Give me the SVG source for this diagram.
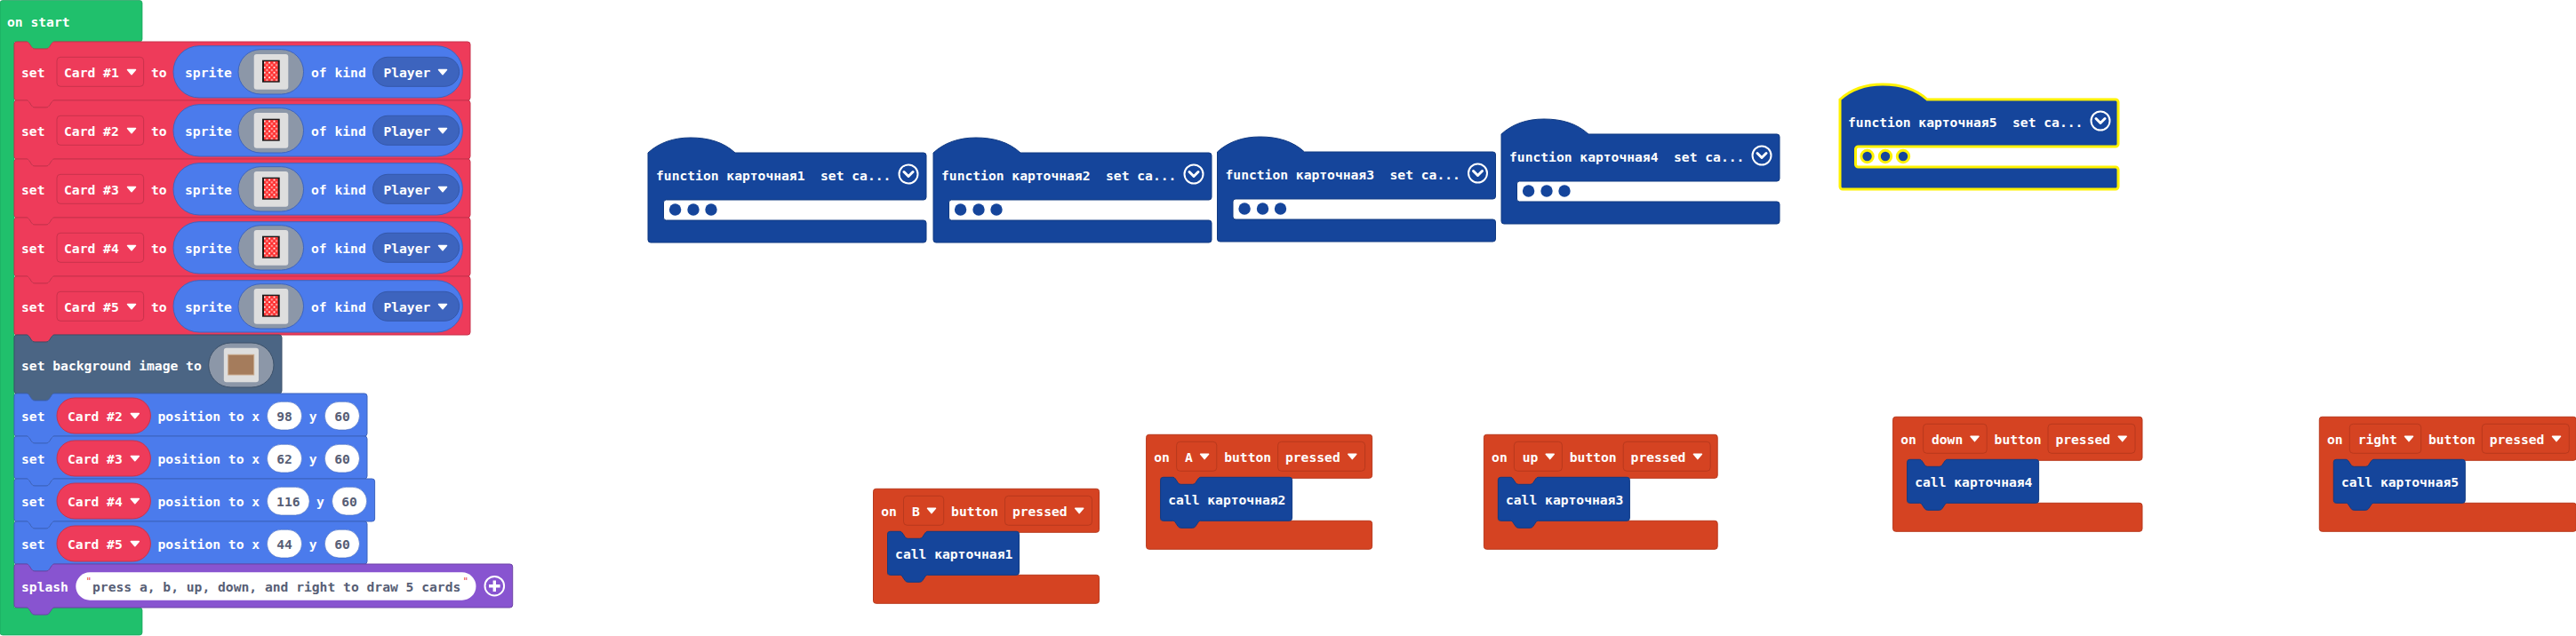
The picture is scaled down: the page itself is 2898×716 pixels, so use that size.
<svg xmlns="http://www.w3.org/2000/svg" width="2898" height="716" viewBox="0 0 2898 716">
<style>
text{font-family:"DejaVu Sans Mono","Liberation Mono",monospace;font-weight:700;font-size:14.65px;fill:#fff;white-space:pre}
.g{fill:#575E75}
.red{fill:#EE3B5A;stroke:#C8324C}
.blue{fill:#4B7BEC;stroke:#3D64BE}
.slate{fill:#4B6584;stroke:#3C516A}
.purple{fill:#8854D0;stroke:#6D43A6}
.fn{fill:#15459B;stroke:#113A82}
.ev{fill:#D54322;stroke:#B8391D}
.evf{fill:#D54322;stroke:#B8391D}
.gp{fill:#8C97A8}
.box{fill:#DEDEDE}
.num{fill:#fff;stroke:#3D64BE;stroke-width:.6}
.arrow{fill:#fff;stroke:#fff;stroke-width:1.5;stroke-linejoin:round}
.ring{fill:none;stroke:#fff;stroke-width:2}
.chev{fill:none;stroke:#fff;stroke-width:3;stroke-linecap:round;stroke-linejoin:round}
.q{font-size:11px;fill:#E63946;font-weight:400}
</style>
<defs>
<pattern id="dither" width="5.4" height="5.6" patternUnits="userSpaceOnUse">
<rect width="5.4" height="5.6" fill="#FF2B2B"/>
<rect x="1.700" y="1.800" width="2" height="2" fill="#FFE4E4"/>
<rect x="0" y="0" width="1.200" height="1.200" fill="#FF9A9A"/>
<rect x="4.200" y="4.400" width="1.200" height="1.200" fill="#FF9A9A"/>
<rect x="4.200" y="0" width="1.200" height="1.200" fill="#FF9A9A"/>
<rect x="0" y="4.400" width="1.200" height="1.200" fill="#FF9A9A"/>
</pattern>
<path id="arr" class="arrow" d="M-4.500-2.500H4.500L0 2.800Z"/>
<g id="card">
<rect width="19.700" height="25" fill="#1A1A1A"/>
<rect x="2" y="1.400" width="15.700" height="22.200" fill="url(#dither)"/>
</g>
<path id="fnshape" d="M0 0C12-11 28-17 48-17C68-17 85-12 98 0H310a3 3 0 0 1 3 3V50a3 3 0 0 1-3 3H20.500a3 3 0 0 0-3 3V73a3 3 0 0 0 3 3H310a3 3 0 0 1 3 3V98a3 3 0 0 1-3 3H3a3 3 0 0 1-3-3Z"/>
<g id="fndots"><circle cx="30.600" cy="64" r="6.700"/><circle cx="51" cy="64" r="6.700"/><circle cx="71" cy="64" r="6.700"/></g>
<g id="fnicon"><circle class="ring" cx="293" cy="24" r="10.500"/><path class="chev" d="M288 21.500L293 26.500L298 21.500"/></g>
<path id="redrow" class="red" d="M3 0H14q1.500 0 2.500 1.500l3 4.500q1 2 3.500 2h13q2.500 0 3.500-2l3-4.500q1-1.500 2.500-1.500H510a3 3 0 0 1 3 3V63a3 3 0 0 1-3 3H45q-1.500 0-2.500 1.500l-3 4.500q-1 2-3.500 2H23q-2.500 0-3.500-2l-3-4.500q-1-1.500-2.500-1.500H3a3 3 0 0 1-3-3V3a3 3 0 0 1 3-3Z"/>
<path id="callshape" class="fn" d="M3 0H14q1.500 0 2.500 1.500l3 4.500q1 2 3.500 2h13q2.500 0 3.500-2l3-4.500q1-1.500 2.500-1.500H145a3 3 0 0 1 3 3V46a3 3 0 0 1-3 3H45q-1.500 0-2.500 1.500l-3 4.500q-1 2-3.500 2H23q-2.500 0-3.500-2l-3-4.500q-1-1.500-2.500-1.500H3a3 3 0 0 1-3-3V3a3 3 0 0 1 3-3Z"/>
<g id="spritepill">
<rect class="blue" x="179" y="4.700" width="325.400" height="58.300" rx="29"/>
<rect class="gp" x="252" y="8.700" width="73.500" height="50.300" rx="25" stroke="#3D64BE"/>
<rect class="box" x="269.700" y="14" width="38.600" height="39.700" rx="3"/>
<use href="#card" x="279" y="20.700"/>
<text x="192" y="40">sprite</text>
<text x="334" y="40">of kind</text>
<rect x="403.600" y="17.300" width="97" height="33" rx="16.500" fill="#3D64BE" stroke="#3558AA"/>
<text x="415.400" y="40">Player</text>
<use href="#arr" x="482" y="34"/>
</g>
</defs>
<rect width="2898" height="716" fill="#fff"/>

<g id="on-start">
<path d="M3 .5H157a3 3 0 0 1 3 3V44a3 3 0 0 1-3 3H61q-1.500 0-2.500 1.500l-3 4.500q-1 2-3.500 2H39q-2.500 0-3.500-2l-3-4.500q-1-1.500-2.500-1.500H16V684H157a3 3 0 0 1 3 3V712a3 3 0 0 1-3 3H3a3 3 0 0 1-3-3V3.500a3 3 0 0 1 3-3Z" fill="#20C06C" stroke="#1B9E5A" stroke-width=".7"/>
<text x="8" y="30">on start</text>
</g>

<g id="set-card1" transform="translate(16,47)"><use href="#redrow"/><text x="8" y="40">set</text><rect class="red" x="48" y="17.300" width="97.600" height="33" rx="4"/><text x="56" y="40">Card #1</text><use href="#arr" x="132" y="34"/><text x="154" y="40">to</text><use href="#spritepill"/></g>
<g id="set-card2" transform="translate(16,113)"><use href="#redrow"/><text x="8" y="40">set</text><rect class="red" x="48" y="17.300" width="97.600" height="33" rx="4"/><text x="56" y="40">Card #2</text><use href="#arr" x="132" y="34"/><text x="154" y="40">to</text><use href="#spritepill"/></g>
<g id="set-card3" transform="translate(16,179)"><use href="#redrow"/><text x="8" y="40">set</text><rect class="red" x="48" y="17.300" width="97.600" height="33" rx="4"/><text x="56" y="40">Card #3</text><use href="#arr" x="132" y="34"/><text x="154" y="40">to</text><use href="#spritepill"/></g>
<g id="set-card4" transform="translate(16,245)"><use href="#redrow"/><text x="8" y="40">set</text><rect class="red" x="48" y="17.300" width="97.600" height="33" rx="4"/><text x="56" y="40">Card #4</text><use href="#arr" x="132" y="34"/><text x="154" y="40">to</text><use href="#spritepill"/></g>
<g id="set-card5" transform="translate(16,311)"><use href="#redrow"/><text x="8" y="40">set</text><rect class="red" x="48" y="17.300" width="97.600" height="33" rx="4"/><text x="56" y="40">Card #5</text><use href="#arr" x="132" y="34"/><text x="154" y="40">to</text><use href="#spritepill"/></g>

<g id="set-background" transform="translate(16,377)">
<path class="slate" d="M3 0H14q1.500 0 2.500 1.500l3 4.500q1 2 3.500 2h13q2.500 0 3.500-2l3-4.500q1-1.500 2.500-1.500H298a3 3 0 0 1 3 3V63a3 3 0 0 1-3 3H45q-1.500 0-2.500 1.500l-3 4.500q-1 2-3.500 2H23q-2.500 0-3.500-2l-3-4.500q-1-1.500-2.500-1.500H3a3 3 0 0 1-3-3V3a3 3 0 0 1 3-3Z"/>
<text x="8" y="40">set background image to</text>
<rect class="gp" x="218.700" y="9" width="73.300" height="50" rx="25" stroke="#3C516A"/>
<rect class="box" x="235.800" y="14.700" width="39.200" height="38.600" rx="3"/>
<rect x="240.700" y="22.300" width="29" height="22.700" fill="#A57C5C" stroke="#C9A98C"/>
</g>

<g id="pos-card2" transform="translate(16,443)">
<path class="blue" d="M3 0H14q1.500 0 2.500 1.500l3 4.500q1 2 3.500 2h13q2.500 0 3.500-2l3-4.500q1-1.500 2.500-1.500H394a3 3 0 0 1 3 3V45a3 3 0 0 1-3 3H45q-1.500 0-2.500 1.500l-3 4.500q-1 2-3.500 2H23q-2.500 0-3.500-2l-3-4.500q-1-1.500-2.500-1.500H3a3 3 0 0 1-3-3V3a3 3 0 0 1 3-3Z"/>
<text x="8" y="31">set</text><rect class="red" x="48" y="5" width="105.400" height="40" rx="20"/><text x="60" y="31">Card #2</text><use href="#arr" x="135.800" y="25"/>
<text x="161.500" y="31">position to x</text><rect class="num" x="284.400" y="9.300" width="39.200" height="31.700" rx="15.800"/><text class="g" x="304" y="31" text-anchor="middle">98</text>
<text x="331.800" y="31">y</text><rect class="num" x="349.300" y="9.300" width="39.200" height="31.700" rx="15.800"/><text class="g" x="369" y="31" text-anchor="middle">60</text>
</g>
<g id="pos-card3" transform="translate(16,491)">
<path class="blue" d="M3 0H14q1.500 0 2.500 1.500l3 4.500q1 2 3.500 2h13q2.500 0 3.500-2l3-4.500q1-1.500 2.500-1.500H394a3 3 0 0 1 3 3V45a3 3 0 0 1-3 3H45q-1.500 0-2.500 1.500l-3 4.500q-1 2-3.500 2H23q-2.500 0-3.500-2l-3-4.500q-1-1.500-2.500-1.500H3a3 3 0 0 1-3-3V3a3 3 0 0 1 3-3Z"/>
<text x="8" y="31">set</text><rect class="red" x="48" y="5" width="105.400" height="40" rx="20"/><text x="60" y="31">Card #3</text><use href="#arr" x="135.800" y="25"/>
<text x="161.500" y="31">position to x</text><rect class="num" x="284.400" y="9.300" width="39.200" height="31.700" rx="15.800"/><text class="g" x="304" y="31" text-anchor="middle">62</text>
<text x="331.800" y="31">y</text><rect class="num" x="349.300" y="9.300" width="39.200" height="31.700" rx="15.800"/><text class="g" x="369" y="31" text-anchor="middle">60</text>
</g>
<g id="pos-card4" transform="translate(16,539)">
<path class="blue" d="M3 0H14q1.500 0 2.500 1.500l3 4.500q1 2 3.500 2h13q2.500 0 3.500-2l3-4.500q1-1.500 2.500-1.500H402.600a3 3 0 0 1 3 3V45a3 3 0 0 1-3 3H45q-1.500 0-2.500 1.500l-3 4.500q-1 2-3.500 2H23q-2.500 0-3.500-2l-3-4.500q-1-1.500-2.500-1.500H3a3 3 0 0 1-3-3V3a3 3 0 0 1 3-3Z"/>
<text x="8" y="31">set</text><rect class="red" x="48" y="5" width="105.400" height="40" rx="20"/><text x="60" y="31">Card #4</text><use href="#arr" x="135.800" y="25"/>
<text x="161.500" y="31">position to x</text><rect class="num" x="284.400" y="9.300" width="47.800" height="31.700" rx="15.800"/><text class="g" x="308.300" y="31" text-anchor="middle">116</text>
<text x="340" y="31">y</text><rect class="num" x="357.500" y="9.300" width="39.200" height="31.700" rx="15.800"/><text class="g" x="377" y="31" text-anchor="middle">60</text>
</g>
<g id="pos-card5" transform="translate(16,587)">
<path class="blue" d="M3 0H14q1.500 0 2.500 1.500l3 4.500q1 2 3.500 2h13q2.500 0 3.500-2l3-4.500q1-1.500 2.500-1.500H394a3 3 0 0 1 3 3V45a3 3 0 0 1-3 3H45q-1.500 0-2.500 1.500l-3 4.500q-1 2-3.500 2H23q-2.500 0-3.500-2l-3-4.500q-1-1.500-2.500-1.500H3a3 3 0 0 1-3-3V3a3 3 0 0 1 3-3Z"/>
<text x="8" y="31">set</text><rect class="red" x="48" y="5" width="105.400" height="40" rx="20"/><text x="60" y="31">Card #5</text><use href="#arr" x="135.800" y="25"/>
<text x="161.500" y="31">position to x</text><rect class="num" x="284.400" y="9.300" width="39.200" height="31.700" rx="15.800"/><text class="g" x="304" y="31" text-anchor="middle">44</text>
<text x="331.800" y="31">y</text><rect class="num" x="349.300" y="9.300" width="39.200" height="31.700" rx="15.800"/><text class="g" x="369" y="31" text-anchor="middle">60</text>
</g>

<g id="splash" transform="translate(16,635)">
<path class="purple" d="M3 0H14q1.500 0 2.500 1.500l3 4.500q1 2 3.500 2h13q2.500 0 3.500-2l3-4.500q1-1.500 2.500-1.500H557.700a3 3 0 0 1 3 3V46a3 3 0 0 1-3 3H45q-1.500 0-2.500 1.500l-3 4.500q-1 2-3.500 2H23q-2.500 0-3.500-2l-3-4.500q-1-1.500-2.500-1.500H3a3 3 0 0 1-3-3V3a3 3 0 0 1 3-3Z"/>
<text x="8" y="31">splash</text>
<rect x="69.300" y="9.300" width="450.200" height="31.400" rx="15.700" fill="#fff"/>
<text class="q" x="80.500" y="23">"</text>
<text class="q" x="504.500" y="23">"</text>
<text class="g" x="88" y="31">press a, b, up, down, and right to draw 5 cards</text>
<circle class="ring" cx="540.300" cy="24.700" r="10.800"/>
<path d="M540.300 18.500V31M534 24.700H546.600" stroke="#fff" stroke-width="3.400" fill="none"/>
</g>

<g id="function1" transform="translate(729,172)"><use href="#fnshape" class="fn"/><text x="9" y="31">function карточная1</text><text x="194" y="31">set ca...</text><use href="#fnicon"/><use href="#fndots" fill="#15459B"/></g>
<g id="function2" transform="translate(1050,172)"><use href="#fnshape" class="fn"/><text x="9" y="31">function карточная2</text><text x="194" y="31">set ca...</text><use href="#fnicon"/><use href="#fndots" fill="#15459B"/></g>
<g id="function3" transform="translate(1369.500,171)"><use href="#fnshape" class="fn"/><text x="9" y="31">function карточная3</text><text x="194" y="31">set ca...</text><use href="#fnicon"/><use href="#fndots" fill="#15459B"/></g>
<g id="function4" transform="translate(1689,151)"><use href="#fnshape" class="fn"/><text x="9" y="31">function карточная4</text><text x="194" y="31">set ca...</text><use href="#fnicon"/><use href="#fndots" fill="#15459B"/></g>
<g id="function5" transform="translate(2070,112)"><use href="#fnshape" fill="#15459B" stroke="#FFF200" stroke-width="3"/><text x="9" y="31">function карточная5</text><text x="194" y="31">set ca...</text><use href="#fnicon"/><use href="#fndots" fill="#15459B" stroke="#FFF200" stroke-width="3"/></g>

<g id="on-b" transform="translate(982.500,550.300)">
<path class="ev" d="M3 0H251a3 3 0 0 1 3 3V46a3 3 0 0 1-3 3H61q-1.500 0-2.500 1.500l-3 4.500q-1 2-3.500 2H39q-2.500 0-3.500-2l-3-4.500q-1-1.500-2.500-1.500H16V97H251a3 3 0 0 1 3 3V126a3 3 0 0 1-3 3H3a3 3 0 0 1-3-3V3a3 3 0 0 1 3-3Z"/>
<text x="8.700" y="31">on</text><rect class="evf" x="34" y="8" width="45.200" height="33" rx="4"/><text x="43.400" y="31">B</text><use href="#arr" x="65.500" y="24.500"/>
<text x="87.600" y="31">button</text><rect class="evf" x="148" y="8" width="98" height="33" rx="4"/><text x="156.400" y="31">pressed</text><use href="#arr" x="231.700" y="24.500"/>
<g id="call1" transform="translate(16,48)"><use href="#callshape"/><text x="8.600" y="31">call карточная1</text></g>
</g>
<g id="on-a" transform="translate(1289.600,489.300)">
<path class="ev" d="M3 0H251a3 3 0 0 1 3 3V46a3 3 0 0 1-3 3H61q-1.500 0-2.500 1.500l-3 4.500q-1 2-3.500 2H39q-2.500 0-3.500-2l-3-4.500q-1-1.500-2.500-1.500H16V97H251a3 3 0 0 1 3 3V126a3 3 0 0 1-3 3H3a3 3 0 0 1-3-3V3a3 3 0 0 1 3-3Z"/>
<text x="8.700" y="31">on</text><rect class="evf" x="34" y="8" width="45.200" height="33" rx="4"/><text x="43.400" y="31">A</text><use href="#arr" x="65.500" y="24.500"/>
<text x="87.600" y="31">button</text><rect class="evf" x="148" y="8" width="98" height="33" rx="4"/><text x="156.400" y="31">pressed</text><use href="#arr" x="231.700" y="24.500"/>
<g id="call2" transform="translate(16,48)"><use href="#callshape"/><text x="8.600" y="31">call карточная2</text></g>
</g>
<g id="on-up" transform="translate(1669.400,489.300)">
<path class="ev" d="M3 0H259.800a3 3 0 0 1 3 3V46a3 3 0 0 1-3 3H61q-1.500 0-2.500 1.500l-3 4.500q-1 2-3.500 2H39q-2.500 0-3.500-2l-3-4.500q-1-1.500-2.500-1.500H16V97H259.800a3 3 0 0 1 3 3V126a3 3 0 0 1-3 3H3a3 3 0 0 1-3-3V3a3 3 0 0 1 3-3Z"/>
<text x="8.700" y="31">on</text><rect class="evf" x="34" y="8" width="54" height="33" rx="4"/><text x="43.400" y="31">up</text><use href="#arr" x="74.300" y="24.500"/>
<text x="96.400" y="31">button</text><rect class="evf" x="156.800" y="8" width="98" height="33" rx="4"/><text x="165.200" y="31">pressed</text><use href="#arr" x="240.500" y="24.500"/>
<g id="call3" transform="translate(16,48)"><use href="#callshape"/><text x="8.600" y="31">call карточная3</text></g>
</g>
<g id="on-down" transform="translate(2129.600,469.300)">
<path class="ev" d="M3 0H277.400a3 3 0 0 1 3 3V46a3 3 0 0 1-3 3H61q-1.500 0-2.500 1.500l-3 4.500q-1 2-3.500 2H39q-2.500 0-3.500-2l-3-4.500q-1-1.500-2.500-1.500H16V97H277.400a3 3 0 0 1 3 3V126a3 3 0 0 1-3 3H3a3 3 0 0 1-3-3V3a3 3 0 0 1 3-3Z"/>
<text x="8.700" y="31">on</text><rect class="evf" x="34" y="8" width="71.600" height="33" rx="4"/><text x="43.400" y="31">down</text><use href="#arr" x="91.900" y="24.500"/>
<text x="114" y="31">button</text><rect class="evf" x="174.400" y="8" width="98" height="33" rx="4"/><text x="182.800" y="31">pressed</text><use href="#arr" x="258.100" y="24.500"/>
<g id="call4" transform="translate(16,48)"><use href="#callshape"/><text x="8.600" y="31">call карточная4</text></g>
</g>
<g id="on-right" transform="translate(2609.300,469.300)">
<path class="ev" d="M3 0H286a3 3 0 0 1 3 3V46a3 3 0 0 1-3 3H61q-1.500 0-2.500 1.500l-3 4.500q-1 2-3.500 2H39q-2.500 0-3.500-2l-3-4.500q-1-1.500-2.500-1.500H16V97H286a3 3 0 0 1 3 3V126a3 3 0 0 1-3 3H3a3 3 0 0 1-3-3V3a3 3 0 0 1 3-3Z"/>
<text x="8.700" y="31">on</text><rect class="evf" x="34" y="8" width="80.400" height="33" rx="4"/><text x="43.400" y="31">right</text><use href="#arr" x="100.700" y="24.500"/>
<text x="122.700" y="31">button</text><rect class="evf" x="183" y="8" width="98" height="33" rx="4"/><text x="191.400" y="31">pressed</text><use href="#arr" x="266.700" y="24.500"/>
<g id="call5" transform="translate(16,48)"><use href="#callshape"/><text x="8.600" y="31">call карточная5</text></g>
</g>
<g id="connectors"></g>
</svg>
